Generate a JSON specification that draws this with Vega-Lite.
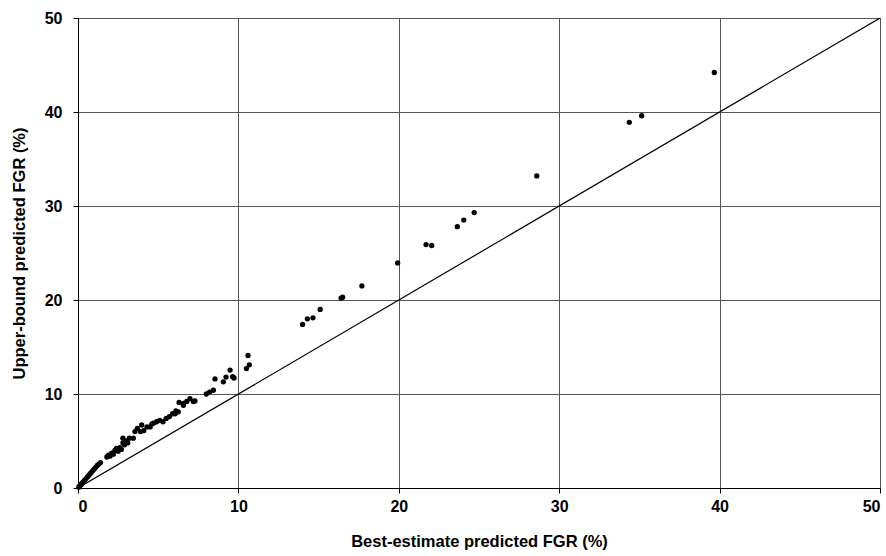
{
  "$schema": "https://vega.github.io/schema/vega-lite/v6.json",
  "width": 802,
  "height": 470,
  "autosize": "none",
  "padding": {"left": 78, "top": 18, "right": 6, "bottom": 68},
  "background": "white",
  "config": {
    "view": {"stroke": "#000000", "strokeWidth": 1},
    "axis": {
      "labelFont": "Liberation Sans",
      "labelFontWeight": "bold",
      "labelFontSize": 16,
      "labelColor": "#000000",
      "titleFont": "Liberation Sans",
      "titleFontWeight": "bold",
      "titleFontSize": 16.5,
      "titleColor": "#000000",
      "domainColor": "#000000",
      "tickColor": "#000000",
      "tickSize": 5,
      "gridColor": "#555555",
      "gridWidth": 1,
      "gridOpacity": 1
    }
  },
  "datasets": {
    "points": [
      {"best": 0.05, "upper": 0.08}, {"best": 0.1, "upper": 0.2}, {"best": 0.15, "upper": 0.3},
      {"best": 0.2, "upper": 0.4}, {"best": 0.25, "upper": 0.5}, {"best": 0.3, "upper": 0.6},
      {"best": 0.4, "upper": 0.8}, {"best": 0.5, "upper": 1.0}, {"best": 0.6, "upper": 1.2},
      {"best": 0.7, "upper": 1.4}, {"best": 0.8, "upper": 1.6}, {"best": 0.9, "upper": 1.8},
      {"best": 1.0, "upper": 2.0}, {"best": 1.1, "upper": 2.2}, {"best": 1.2, "upper": 2.4},
      {"best": 1.3, "upper": 2.55}, {"best": 1.4, "upper": 2.7},
      {"best": 1.8, "upper": 3.3}, {"best": 1.9, "upper": 3.5}, {"best": 2.0, "upper": 3.4},
      {"best": 2.1, "upper": 3.7}, {"best": 2.2, "upper": 3.6}, {"best": 2.3, "upper": 4.0},
      {"best": 2.4, "upper": 4.2}, {"best": 2.5, "upper": 3.9}, {"best": 2.6, "upper": 4.3},
      {"best": 2.7, "upper": 4.1}, {"best": 2.8, "upper": 4.8}, {"best": 2.9, "upper": 4.6},
      {"best": 3.0, "upper": 5.0}, {"best": 3.1, "upper": 4.8}, {"best": 3.2, "upper": 5.3},
      {"best": 2.8, "upper": 5.3}, {"best": 3.45, "upper": 5.3}, {"best": 3.55, "upper": 6.0},
      {"best": 3.7, "upper": 6.35}, {"best": 3.9, "upper": 6.0}, {"best": 3.97, "upper": 6.7},
      {"best": 4.1, "upper": 6.1}, {"best": 4.3, "upper": 6.5}, {"best": 4.5, "upper": 6.5},
      {"best": 4.6, "upper": 6.8}, {"best": 4.7, "upper": 6.9}, {"best": 4.9, "upper": 7.05},
      {"best": 5.1, "upper": 7.2}, {"best": 5.3, "upper": 7.05}, {"best": 5.5, "upper": 7.4},
      {"best": 5.7, "upper": 7.6}, {"best": 5.9, "upper": 7.9}, {"best": 6.05, "upper": 7.9},
      {"best": 6.1, "upper": 8.2}, {"best": 6.25, "upper": 8.1}, {"best": 6.3, "upper": 9.1},
      {"best": 6.56, "upper": 9.0}, {"best": 6.57, "upper": 8.8}, {"best": 6.78, "upper": 9.2},
      {"best": 6.98, "upper": 9.5}, {"best": 7.19, "upper": 9.2}, {"best": 7.29, "upper": 9.26},
      {"best": 8.0, "upper": 10.0}, {"best": 8.2, "upper": 10.2}, {"best": 8.44, "upper": 10.4},
      {"best": 8.54, "upper": 11.6}, {"best": 9.06, "upper": 11.3}, {"best": 9.23, "upper": 11.8},
      {"best": 9.48, "upper": 12.55}, {"best": 9.64, "upper": 11.84}, {"best": 9.73, "upper": 11.7},
      {"best": 10.5, "upper": 12.7}, {"best": 10.68, "upper": 13.1}, {"best": 10.6, "upper": 14.1},
      {"best": 14.0, "upper": 17.4}, {"best": 14.3, "upper": 18.0}, {"best": 14.65, "upper": 18.1},
      {"best": 15.1, "upper": 19.0}, {"best": 16.4, "upper": 20.2}, {"best": 16.5, "upper": 20.3},
      {"best": 17.7, "upper": 21.5}, {"best": 19.93, "upper": 23.94}, {"best": 21.7, "upper": 25.9},
      {"best": 22.05, "upper": 25.8}, {"best": 23.65, "upper": 27.8}, {"best": 24.05, "upper": 28.5},
      {"best": 24.7, "upper": 29.3}, {"best": 28.6, "upper": 33.2}, {"best": 34.37, "upper": 38.9},
      {"best": 35.14, "upper": 39.6}, {"best": 39.67, "upper": 44.2}
    ],
    "diag": [{"best": 0, "upper": 0}, {"best": 50, "upper": 50}]
  },
  "encoding": {
    "x": {
      "field": "best", "type": "quantitative",
      "scale": {"domain": [0, 50], "nice": false},
      "axis": {"values": [0, 10, 20, 30, 40, 50], "title": "Best-estimate predicted FGR (%)", "labelPadding": 5, "titlePadding": 19}
    },
    "y": {
      "field": "upper", "type": "quantitative",
      "scale": {"domain": [0, 50], "nice": false},
      "axis": {"values": [0, 10, 20, 30, 40, 50], "title": "Upper-bound predicted FGR (%)", "labelPadding": 11, "titlePadding": 17}
    }
  },
  "layer": [
    {
      "data": {"name": "diag"},
      "mark": {"type": "line", "color": "#000000", "strokeWidth": 1.2, "clip": true}
    },
    {
      "data": {"name": "points"},
      "mark": {"type": "point", "filled": true, "color": "#000000", "opacity": 1, "size": 28}
    }
  ]
}
